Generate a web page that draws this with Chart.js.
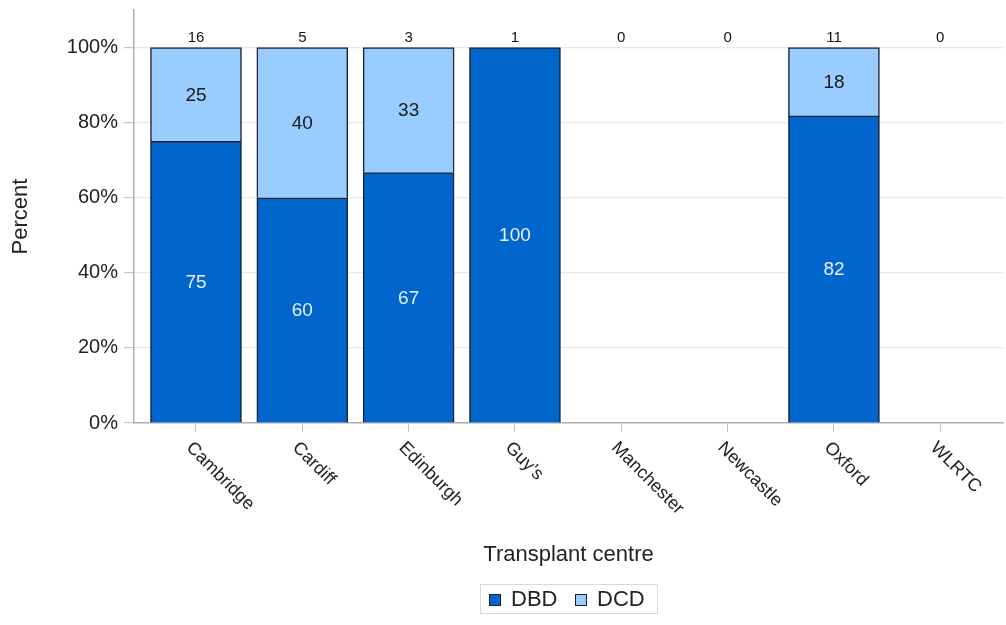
<!DOCTYPE html>
<html>
<head>
<meta charset="utf-8">
<script src="https://cdn.jsdelivr.net/npm/chart.js@4/dist/chart.umd.min.js"></script>
<style>
  html, body { margin: 0; padding: 0; background: #fff; }
  #wrap { width: 1006px; height: 625px; }
</style>
</head>
<body>
<div id="wrap"><canvas id="chart" width="1006" height="625"></canvas></div>
<script>
'use strict';
// values
var centres = ['Cambridge', 'Cardiff', 'Edinburgh', 'Guy\u2019s', 'Manchester', 'Newcastle', 'Oxford', 'WLRTC'];
var dbdPct = [75, 60, 66.7, 100, null, null, 81.8, null];
var dcdPct = [25, 40, 33.3, null, null, null, 18.2, null];
var totals = [16, 5, 3, 1, 0, 0, 11, 0];
var yTicks = [0, 20, 40, 60, 80, 100];

var FONT = '"Liberation Sans", Arial, sans-serif';
var DBD_COL = '#0066cc';
var DCD_COL = '#99ccff';
var EDGE = '#1c2433';

function points(arr) {
  return arr.map(function(v, i) { return { x: i, y: v }; });
}

// draws value labels, totals, rotated centre names, axis title and legend
var extras = {
  id: 'extras',
  afterDatasetsDraw: function(chart) {
    var ctx = chart.ctx;
    var xs = chart.scales.x;
    var ys = chart.scales.y;
    var area = chart.chartArea;
    ctx.save();

    // numbers inside the segments
    ctx.textAlign = 'center';
    ctx.textBaseline = 'middle';
    ctx.font = '19px ' + FONT;
    chart.data.datasets.forEach(function(ds, d) {
      var meta = chart.getDatasetMeta(d);
      meta.data.forEach(function(bar, i) {
        var v = ds.data[i].y;
        if (v === null || v === 0) return;
        ctx.fillStyle = d === 0 ? '#e6eefa' : '#1a1a1a';
        ctx.fillText(Math.round(v), bar.x, (bar.y + bar.base) / 2 + 1);
      });
    });

    // totals above each bar
    ctx.font = '15px ' + FONT;
    ctx.fillStyle = '#111';
    totals.forEach(function(n, i) {
      ctx.fillText(n, xs.getPixelForValue(i), ys.getPixelForValue(100) - 10);
    });

    // rotated centre names
    ctx.font = '18px ' + FONT;
    ctx.fillStyle = '#222';
    ctx.textAlign = 'left';
    centres.forEach(function(c, i) {
      ctx.save();
      ctx.translate(xs.getPixelForValue(i) - 7, area.bottom + 22);
      ctx.rotate(Math.PI / 4);
      ctx.fillText(c, 0, 0);
      ctx.restore();
    });

    // x axis title
    var mid = (area.left + area.right) / 2;
    ctx.textAlign = 'center';
    ctx.font = '22px ' + FONT;
    ctx.fillText('Transplant centre', mid, 555);

    // legend
    ctx.font = '22px ' + FONT;
    var items = [['DBD', DBD_COL, 9], ['DCD', DCD_COL, 95]];
    var boxW = 177, boxL = Math.round(mid - boxW / 2);
    ctx.strokeStyle = '#d9d9d9';
    ctx.lineWidth = 1;
    ctx.strokeRect(boxL + 0.5, 584.5, boxW, 29);
    ctx.textAlign = 'left';
    items.forEach(function(it) {
      var x = boxL + it[2];
      ctx.fillStyle = it[1];
      ctx.fillRect(x, 594, 12, 12);
      ctx.strokeStyle = EDGE;
      ctx.strokeRect(x + 0.5, 594.5, 11, 11);
      ctx.fillStyle = '#222';
      ctx.fillText(it[0], x + 22, 600);
    });
    ctx.restore();
  }
};

new Chart(document.getElementById('chart'), {
  type: 'bar',
  data: {
    datasets: [
      { label: 'DBD', data: points(dbdPct), backgroundColor: DBD_COL, borderColor: EDGE, borderWidth: 1.5, barThickness: 91 },
      { label: 'DCD', data: points(dcdPct), backgroundColor: DCD_COL, borderColor: EDGE, borderWidth: 1.5, barThickness: 91 }
    ]
  },
  options: {
    responsive: false,
    animation: false,
    layout: { padding: { top: 10, right: 3, left: 0, bottom: 0 } },
    plugins: { legend: { display: false }, tooltip: { enabled: false } },
    scales: {
      x: {
        type: 'linear',
        stacked: true,
        offset: false,
        min: -0.583,
        max: 7.59,
        afterBuildTicks: function(s) { s.ticks = centres.map(function(c, i) { return { value: i }; }); },
        afterFit: function(s) { s.height = 202; s.paddingLeft = 0; s.paddingRight = 0; },
        ticks: { display: false },
        grid: { offset: false, drawOnChartArea: false, tickLength: 9, color: '#c4c4c4' },
        border: { color: '#b0b0b0', width: 1.5 }
      },
      y: {
        stacked: true,
        min: 0,
        max: 110,
        afterBuildTicks: function(s) { s.ticks = yTicks.map(function(v) { return { value: v }; }); },
        afterFit: function(s) { s.width = 134; s.paddingTop = 0; s.paddingBottom = 0; },
        ticks: {
          callback: function(v) { return v + '%'; },
          font: { family: FONT, size: 20 },
          color: '#222',
          padding: 6
        },
        grid: { color: '#e8e8e8', tickColor: '#c4c4c4', tickLength: 10, lineWidth: 1.2 },
        border: { color: '#b0b0b0', width: 1.5 },
        title: { display: true, text: 'Percent', font: { family: FONT, size: 22 }, color: '#222', padding: { top: 8, bottom: 0 } }
      }
    }
  },
  plugins: [extras]
});
</script>
</body>
</html>
